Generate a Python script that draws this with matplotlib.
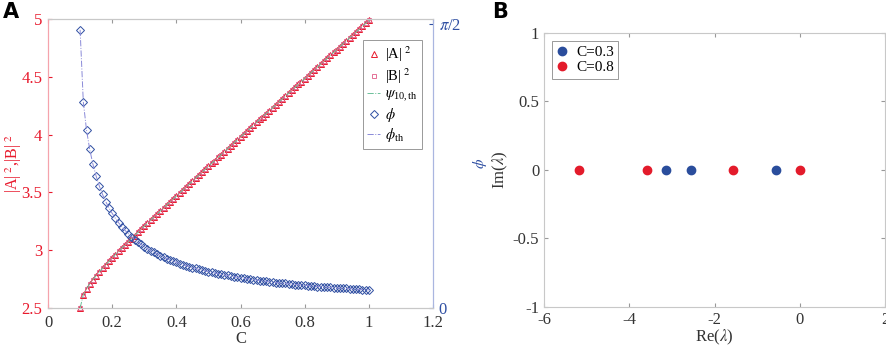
import numpy as np
import matplotlib
matplotlib.use('Agg')
import matplotlib.pyplot as plt

plt.rcParams['font.family'] = ['Liberation Serif', 'DejaVu Serif']
plt.rcParams['mathtext.fontset'] = 'stix'

# panel A: C from 0.10 to 1.00 step 0.01
C = [round(0.10 + 0.01 * i, 2) for i in range(91)]
A2 = [2.500, 2.615, 2.666, 2.708, 2.745, 2.780, 2.812, 2.844, 2.874, 2.904,
      2.933, 2.962, 2.990, 3.018, 3.045, 3.073, 3.100, 3.127, 3.154, 3.181,
      3.207, 3.234, 3.260, 3.286, 3.312, 3.339, 3.365, 3.391, 3.417, 3.442,
      3.468, 3.494, 3.520, 3.546, 3.571, 3.597, 3.623, 3.648, 3.674, 3.699,
      3.725, 3.751, 3.776, 3.802, 3.827, 3.852, 3.878, 3.903, 3.929, 3.954,
      3.979, 4.005, 4.030, 4.055, 4.081, 4.106, 4.131, 4.156, 4.182, 4.207,
      4.232, 4.258, 4.283, 4.308, 4.333, 4.358, 4.384, 4.409, 4.434, 4.459,
      4.484, 4.510, 4.535, 4.560, 4.585, 4.610, 4.636, 4.661, 4.686, 4.711,
      4.736, 4.761, 4.787, 4.812, 4.837, 4.862, 4.887, 4.912, 4.937, 4.962,
      4.988]
B2 = A2
phi = [1.540, 1.141, 0.985, 0.878, 0.796, 0.730, 0.675, 0.629, 0.589, 0.554,
       0.524, 0.496, 0.472, 0.450, 0.430, 0.412, 0.395, 0.379, 0.365, 0.352,
       0.340, 0.329, 0.318, 0.308, 0.299, 0.290, 0.282, 0.274, 0.266, 0.259,
       0.253, 0.246, 0.240, 0.235, 0.229, 0.224, 0.219, 0.214, 0.210, 0.206,
       0.201, 0.197, 0.194, 0.190, 0.186, 0.183, 0.180, 0.176, 0.173, 0.170,
       0.167, 0.165, 0.162, 0.159, 0.157, 0.155, 0.152, 0.150, 0.148, 0.145,
       0.143, 0.141, 0.139, 0.137, 0.136, 0.134, 0.132, 0.130, 0.129, 0.127,
       0.125, 0.124, 0.122, 0.121, 0.119, 0.118, 0.117, 0.115, 0.114, 0.113,
       0.111, 0.110, 0.109, 0.108, 0.107, 0.106, 0.104, 0.103, 0.102, 0.101,
       0.100]

# panel B: eigenvalues
re_03 = [-3.13, -2.56, -0.55]
im_03 = [0, 0, 0]
re_08 = [-5.17, -3.58, -1.57, 0.0]
im_08 = [0, 0, 0, 0]

red = '#e8192c'
blue = '#2f4fa2'
gray = '#c8c8c8'

fig = plt.figure(figsize=(8.86, 3.47), dpi=100)

# ---- A ----
ax = fig.add_axes([0.0542, 0.1124, 0.4345, 0.8328])
ax2 = ax.twinx()
lA, = ax.plot(C, A2, ls='none', marker='^', mfc='none', mec=red, ms=4, mew=0.7, label='|A|$^{\\ 2}$', clip_on=False)
lB, = ax.plot(C, B2, ls='none', marker='s', mfc='none', mec='#e05a86', ms=3, mew=0.6, label='|B|$^{\\ 2}$', clip_on=False)
lpsi, = ax.plot(C, A2, ls='-.', color='#6cc09a', lw=0.7, label='$\\psi_{\\mathregular{10,th}}$')
lphi, = ax2.plot(C, phi, ls='none', marker='D', mfc='none', mec=blue, ms=3.6, mew=0.7, label='$\\phi$')
lphth, = ax2.plot(C, phi, ls='-.', color='#8a8ad8', lw=0.7, label='$\\phi_{\\mathregular{th}}$')

ax.set_xlim(0, 1.2)
ax.set_ylim(2.5, 5)
ax.set_xticks([0, 0.2, 0.4, 0.6, 0.8, 1, 1.2])
ax.set_xticklabels(['0', '0.2', '0.4', '0.6', '0.8', '1', '1.2'])
ax.set_yticks([2.5, 3, 3.5, 4, 4.5, 5])
ax.set_yticklabels(['2.5', '3', '3.5', '4', '4.5', '5'])
ax2.set_ylim(0, 1.6)
ax2.set_yticks([0, np.pi / 2])
ax2.set_yticklabels(['0', '$\\pi$/2'])

ax.tick_params(axis='x', direction='in', length=3, color='#999999', labelsize=12, top=True, pad=5, labelcolor='#333333')
ax.tick_params(axis='y', direction='in', length=3, color=red, labelcolor=red, labelsize=12, pad=4)
ax2.tick_params(axis='y', direction='in', length=3, color=blue, labelcolor=blue, labelsize=12, pad=4)
for a in (ax, ax2):
    a.spines['top'].set_color(gray)
    a.spines['bottom'].set_color(gray)
    a.spines['left'].set_color('#f5a3ac')
    a.spines['right'].set_color('#aab6e0')
    for s in a.spines.values():
        s.set_linewidth(0.8)

ax.set_xlabel('C', fontsize=12, color='#333333', labelpad=0)
ax.set_ylabel('|A|$^{\\ 2}$,|B|$^{\\ 2}$', fontsize=11.5, color=red)
ax.yaxis.set_label_coords(-0.062, 0.5)
ax2.set_ylabel('$\\phi$', fontsize=11, color=blue, rotation=90)
ax2.yaxis.set_label_coords(1.10, 0.5)

leg = ax.legend(handles=[lA, lB, lpsi, lphi, lphth], loc='upper right',
                bbox_to_anchor=(0.971, 0.927), borderaxespad=0, fontsize=10.5,
                handlelength=0.9, handletextpad=0.3, labelspacing=0.15, borderpad=0.3,
                fancybox=False, edgecolor='#999999', framealpha=1)
leg.get_frame().set_linewidth(0.7)

fig.text(0.003, 0.965, 'A', fontsize=15, fontweight='bold', family='DejaVu Sans', va='center')

# ---- B ----
bx = fig.add_axes([0.614, 0.1153, 0.385, 0.7896])
bx.plot(re_03, im_03, ls='none', marker='o', color='#2a4d9c', ms=6, label='C=0.3')
bx.plot(re_08, im_08, ls='none', marker='o', color='#e31b2b', ms=6, label='C=0.8')
bx.set_xlim(-6, 2)
bx.set_ylim(-1, 1)
bx.set_xticks([-6, -4, -2, 0, 2])
bx.set_yticks([-1, -0.5, 0, 0.5, 1])
bx.set_yticklabels(['-1', '-0.5', '0', '0.5', '1'])
bx.set_xticklabels(['-6', '-4', '-2', '0', '2'])
bx.tick_params(direction='in', length=3, color='#999999', labelsize=12, top=True, right=True, labelcolor='#333333')
for s in bx.spines.values():
    s.set_color(gray)
    s.set_linewidth(0.8)
bx.set_xlabel('Re($\\lambda$)', fontsize=12, color='#333333', labelpad=0)
bx.set_ylabel('Im($\\lambda$)', fontsize=12, color='#333333', labelpad=2)
leg2 = bx.legend(loc='upper left', fontsize=11, handlelength=0.8, handletextpad=0.5,
                 labelspacing=0.1, borderpad=0.3, fancybox=False,
                 edgecolor='#999999', framealpha=1, borderaxespad=0.5)
leg2.get_frame().set_linewidth(0.7)

fig.text(0.555, 0.965, 'B', fontsize=15, fontweight='bold', family='DejaVu Sans', va='center')

fig.savefig('out.png', dpi=100)
